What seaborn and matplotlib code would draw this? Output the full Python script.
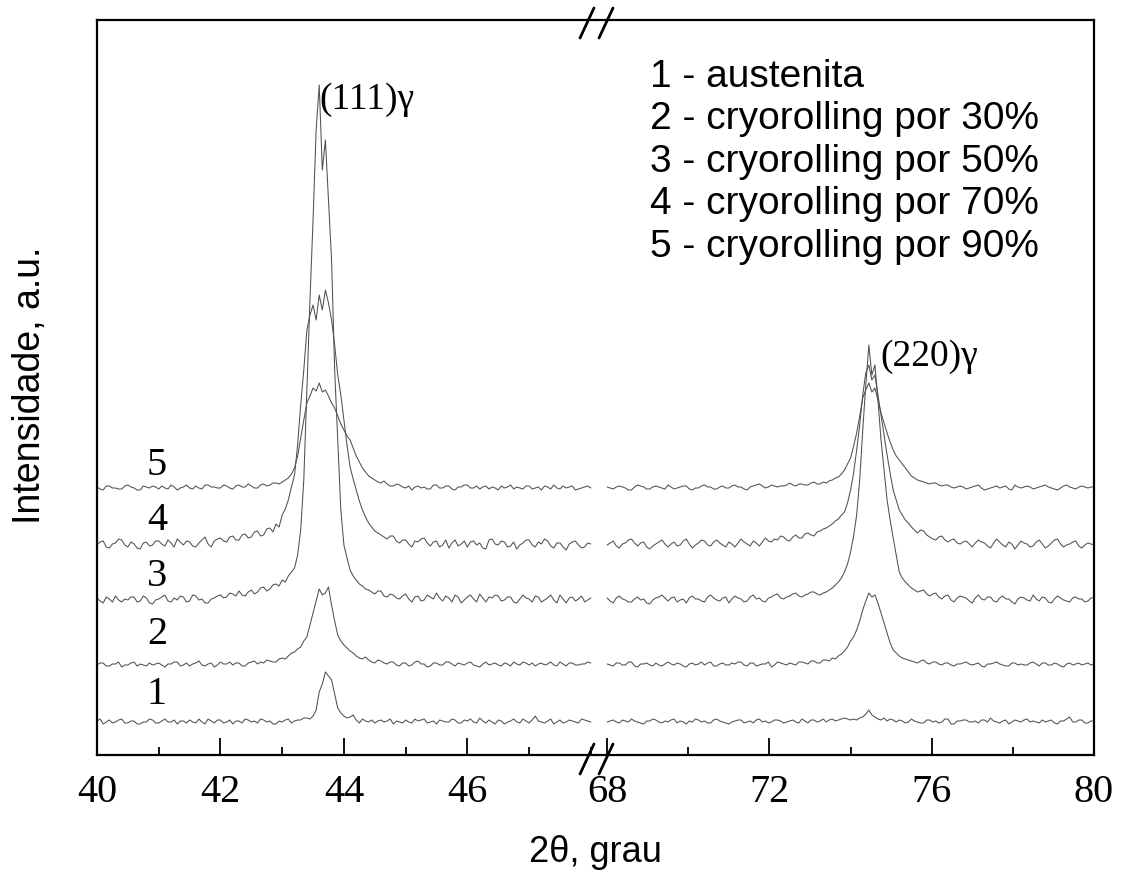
import numpy as np
import pandas as pd
import seaborn as sns
import matplotlib.pyplot as plt
from matplotlib.lines import Line2D
from matplotlib.ticker import MultipleLocator

# 2theta grids (measured steps) for the two parts of the broken axis
theta_left = np.round(np.arange(40.0, 48.0001, 0.05), 3)
theta_right = np.round(np.arange(68.0, 80.0001, 0.075), 3)

# intensities above each baseline (a.u.), one row per 1 deg (left) / 1.5 deg (right)
c1_left = [1, 3, -2, 0, 2, -1, 0, 2, 3, -1, -1, 1, 1, -2, -2, 0, 0, 3, 2, -1,
           -1, 1, 3, 0, 0, 2, -2, 1, 1, -1, 2, 0, -1, 3, 0, -2, 3, 1, -1, 2,
           2, -1, 0, 2, -2, 1, 1, -1, 3, 2, 0, 1, -1, 3, 2, 0, 1, -2, -2, 1,
           0, 2, 3, -1, 1, 2, 2, 4, 4, 3, 6, 12, 30, 38, 50, 46, 42, 28, 14, 9,
           6, 4, 5, 7, 2, -1, 3, 1, 0, 2, -1, 1, 2, 0, 1, 3, -2, 1, 0, -1,
           2, 0, -1, 3, 1, 2, 3, -1, 0, 1, -2, 2, 1, 0, 0, 3, 2, -1, -1, 2,
           1, 3, 0, -1, 4, 1, -1, 2, 0, -2, 2, 1, -2, 0, 1, 3, 0, -1, 3, 1,
           -1, 2, 6, 1, 0, -1, 1, 3, -2, 0, 2, -1, 0, 2, 1, 0, -1, 3, 2, 1,
           0]
c2_left = [0, 2, 2, -1, -1, 1, 1, 3, -2, 0, 0, 2, 3, -1, 1, 0, -1, 2, 0, 1,
           2, 0, -2, 1, 1, 3, 3, -1, 0, 2, -1, 1, 2, 4, 0, -1, 1, 2, -2, 0,
           3, 1, 1, 3, 0, 2, 2, -1, -1, 2, 3, 4, 1, 3, 2, 5, 4, 3, 3, 6,
           7, 6, 9, 12, 13, 16, 18, 24, 28, 40, 52, 64, 76, 70, 72, 78, 60, 44, 30, 24,
           20, 17, 14, 12, 9, 7, 6, 8, 5, 3, 2, 5, 4, 2, 1, 3, 3, 0, -1, 2,
           2, -1, 0, 3, 4, 1, 1, -2, -1, 2, 2, 0, 0, 3, 3, 1, -1, 2, 1, 0,
           2, 3, 0, -1, -2, 1, 3, 0, 1, 2, 0, -1, 2, 1, -1, 3, 1, 0, 3, 2,
           0, 2, -1, 1, 2, 0, 1, 3, 0, -1, 3, 1, -1, 2, 2, 0, 0, 1, 1, 3,
           2]
c3_left = [2, -1, -3, 3, 1, -2, 4, 0, -2, 1, 0, 3, 3, -2, -1, 4, 2, -3, -4, 0,
           1, 3, 5, -1, -2, 2, 0, 4, 3, -2, -1, 5, 4, 0, 1, -3, -3, 1, 2, 4,
           5, 2, 3, 7, 6, 4, 9, 5, 4, 8, 10, 6, 8, 12, 13, 9, 11, 15, 16, 14,
           20, 18, 24, 28, 32, 45, 70, 120, 210, 300, 380, 470, 515, 430, 460, 400, 340, 230, 160, 90,
           55, 42, 30, 24, 20, 16, 14, 11, 10, 8, 6, 9, 9, 4, 3, 6, 5, 2, 1, 4,
           6, 1, -2, 3, 4, -1, 0, 5, 3, 1, 7, 2, -1, 4, 2, -2, 5, 3, -3, 0,
           3, 5, 1, -2, 6, 2, -2, 3, 2, 5, 4, -1, 0, 3, 3, -2, -3, 1, 5, 2,
           1, -2, 4, 3, -2, 0, 2, 5, 0, -3, 5, 1, -3, 2, 3, -1, 1, 4, -2, 0,
           2]
c4_left = [0, 3, 4, -2, -3, 1, 2, 6, 5, 0, -2, 3, 1, -3, -4, 2, 3, -1, 0, 4,
           4, 1, -1, 5, 2, -2, 6, 3, 0, 4, 3, -1, -2, 2, 5, 8, 1, -2, 4, 6,
           7, 4, 3, 8, 9, 5, 5, 10, 11, 7, 8, 13, 14, 9, 10, 16, 17, 13, 21, 18,
           30, 36, 45, 58, 70, 100, 140, 175, 215, 230, 240, 225, 250, 235, 255, 242, 225, 200, 170, 150,
           125, 100, 78, 66, 55, 44, 35, 28, 22, 18, 14, 12, 10, 8, 6, 9, 9, 4, 2, 5,
           5, 1, -2, 4, 3, 6, 7, 2, -1, 3, 4, -2, 0, 5, -3, 2, 5, -1, 1, 4,
           -2, 3, 4, 0, 2, -3, -4, 5, 6, 1, 0, 4, 3, -2, -1, 3, -4, 0, 2, 5,
           5, 0, -2, 3, 1, 6, 4, -1, -3, 2, 2, -2, -5, 1, 3, 4, 0, -3, -2, 2,
           1]
c5_left = [1, -1, -2, 2, 2, 0, 0, -1, -1, 2, 3, 1, 0, -2, -2, 2, 1, 0, 2, 1,
           -1, 2, 0, -1, 3, 1, -2, 0, 1, 3, 0, -1, 2, 0, -1, 3, 3, 1, 1, 0,
           0, 3, 2, 0, -1, 2, 3, 1, 1, 4, 2, 0, 0, 3, 4, 2, 3, 5, 5, 4,
           6, 8, 10, 14, 20, 32, 50, 68, 85, 92, 100, 97, 105, 96, 98, 92, 85, 80, 72, 64,
           58, 52, 48, 40, 32, 26, 20, 16, 12, 10, 8, 6, 5, 7, 4, 2, 2, 4, 3, 1,
           0, 2, -2, 1, 2, 0, 1, -1, -1, 3, 3, 0, 0, 2, 2, -1, -2, 1, 1, 3,
           3, 0, 0, 2, -1, 1, 2, -1, 1, 0, -2, 2, 0, 1, 3, -1, 1, 0, -1, 2,
           2, -1, 0, 1, -2, 2, 1, -1, 3, 0, -1, 2, 0, 1, 2, -2, -1, 0, 1, 2,
           0]

c1_right = [0, 1, 2, 0, -1, 2, 1, 0, 3, 1, 0, -1, -2, 1, 1, 3, 2, 0, -1, 1,
            0, 2, 3, -1, 1, 0, -2, 1, 0, 3, 2, 0, 1, -1, -1, 2, 3, 1, 0, -1,
            -2, 0, 1, 2, 2, -1, 0, 1, -1, 2, 3, 0, 1, -1, 0, 2, 2, 1, -1, 0,
            1, 2, 0, -1, 3, 1, -1, 2, 2, 0, 1, 3, 0, 2, 3, 1, 2, 3, 4, 3,
            2, 3, 2, 4, 5, 8, 12, 7, 5, 3, 2, 4, 1, 3, 2, 0, 2, 1, -1, 0,
            3, 1, 0, -1, -1, 2, 2, 0, 1, -1, 0, 3, 3, -2, -2, 1, 1, 2, 2, 0,
            0, 1, -1, 2, 2, 0, 4, 1, 0, -1, 1, 2, -2, 0, 2, 1, 0, 2, 3, 0,
            1, 0, -1, 2, 0, 1, 2, -1, -2, 1, 1, 3, 5, 0, 0, 2, 2, -1, -1, 1,
            1]
c2_right = [1, 0, -1, 2, 2, 0, 0, 3, 3, -1, -2, 1, 1, 2, 0, -1, 2, 0, -1, 1,
            3, 1, 0, 2, 1, -1, -2, 1, 2, 0, 1, 3, 0, 2, 3, -1, -1, 1, 2, 0,
            0, 2, 1, 3, 3, 0, -1, 2, 2, -1, 0, 1, 1, 3, -2, 0, 3, 2, 1, 0,
            2, 1, 0, 3, 3, 2, 1, 4, 4, 2, 2, 5, 5, 4, 7, 6, 9, 11, 14, 18,
            24, 28, 35, 44, 55, 64, 72, 68, 70, 62, 52, 42, 32, 22, 15, 12, 9, 7, 6, 5,
            4, 3, 2, 4, 5, 2, 1, 3, 3, 1, 0, 2, 2, 0, -1, 1, 1, 2, 3, 1,
            0, 1, 2, -1, -2, 1, 1, 2, 3, 1, 0, -1, -1, 2, 2, 0, 1, 0, 0, 2,
            3, 1, -1, 2, 2, 0, 0, 2, 1, -1, -2, 1, 2, 0, 1, 2, 0, 1, 2, 0,
            1]
c3_right = [2, -1, -3, 2, 4, 1, 0, -2, -2, 1, 3, 0, 1, -3, -4, 0, 2, 3, 5, 2,
            -1, 2, 3, -2, 0, 1, -3, 2, 4, 1, 1, -1, -2, 3, 5, 2, 0, -1, 2, 3,
            -3, 1, 4, 2, 1, -2, -1, 3, 5, 1, 2, -1, -2, 2, 3, 5, 6, 2, 1, 3,
            4, 6, 7, 4, 3, 5, 6, 8, 8, 6, 5, 7, 8, 10, 12, 15, 18, 22, 28, 36,
            48, 64, 85, 120, 170, 215, 255, 225, 235, 200, 160, 130, 100, 80, 62, 45, 28, 22, 18, 15,
            12, 10, 8, 9, 10, 6, 4, 6, 7, 3, 1, 4, 5, 0, -2, 2, 4, 3, 2, -1,
            -3, 2, 5, 1, 0, 3, 3, -1, -2, 2, 4, 1, 1, -2, -4, 1, 3, 2, 0, -1,
            5, 1, -1, 3, 2, -2, -3, 1, 4, 2, 0, -1, -2, 2, 3, 1, 1, -2, -1, 2,
            2]
c4_right = [0, 2, 4, -1, -3, 1, 2, 5, 6, 2, -1, 2, 3, -2, -4, -1, 1, 3, 5, 1,
            -2, 1, 3, -1, 0, 4, 6, 1, -3, 0, 2, 5, 4, 0, -1, 3, 5, 2, 0, -2,
            3, 1, -2, 2, 6, 3, 1, -1, 4, 2, -1, 3, 7, 4, 3, 6, 5, 9, 8, 5,
            4, 8, 10, 7, 7, 11, 12, 10, 9, 13, 14, 16, 17, 19, 21, 24, 26, 30, 33, 42,
            55, 72, 95, 120, 150, 172, 180, 165, 170, 150, 130, 110, 90, 72, 55, 45, 35, 30, 25, 22,
            18, 15, 12, 15, 14, 10, 8, 6, 5, 8, 9, 5, 3, 5, 6, 2, 1, 3, 4, 1,
            -2, 2, 5, 3, 2, -1, -3, 2, 6, 3, 0, -2, 3, 1, -4, 0, 4, 2, 1, -2,
            -1, 3, 5, 1, -3, -1, 2, 5, 6, 1, -2, 0, 1, 3, 4, -1, -3, 0, 2, 1,
            0]
c5_right = [1, 0, -1, 1, 2, 1, 0, -2, -2, 1, 3, 2, 1, -1, -1, 1, 2, 1, 0, -1,
            3, 1, -1, 0, 1, 2, 2, -1, -2, 0, 0, 2, 3, 1, 1, -1, -1, 1, 2, 0,
            0, 2, 3, 1, 1, -1, -2, 1, 2, 3, 4, 2, 0, 1, 3, 2, 1, 2, 2, 3,
            5, 3, 2, 4, 4, 3, 3, 5, 6, 4, 4, 6, 5, 7, 8, 10, 11, 14, 18, 24,
            30, 42, 55, 72, 90, 98, 105, 96, 100, 88, 75, 65, 55, 46, 38, 32, 28, 24, 20, 16,
            12, 10, 8, 7, 6, 5, 4, 5, 5, 3, 2, 3, 3, 1, 0, 1, 2, 1, -1, 0,
            1, 2, 3, 0, -2, -1, 0, 1, 2, 0, 1, 2, -1, -2, 3, 1, 0, 1, 2, 1,
            -1, 0, 1, 2, 3, 1, 0, -1, -2, 0, 2, 3, 1, 0, -1, 1, 2, 1, 0, 1,
            1]

curve_ids = ["1", "2", "3", "4", "5"]
offsets = [33, 90, 155, 210, 267]
legend_lines = ["1 - austenita",
                "2 - cryorolling por 30%",
                "3 - cryorolling por 50%",
                "4 - cryorolling por 70%",
                "5 - cryorolling por 90%"]

left_sets = [c1_left, c2_left, c3_left, c4_left, c5_left]
right_sets = [c1_right, c2_right, c3_right, c4_right, c5_right]

rows = []
for cid, off, yl, yr in zip(curve_ids, offsets, left_sets, right_sets):
    assert len(yl) == len(theta_left) and len(yr) == len(theta_right), cid
    for t, v in zip(theta_left, yl):
        rows.append((cid, "L", t, v + off))
    for t, v in zip(theta_right, yr):
        rows.append((cid, "R", t, v + off))
df = pd.DataFrame(rows, columns=["curva", "parte", "theta", "I"])

sns.set_theme(style="ticks")
plt.rcParams['font.family'] = ['Liberation Sans', 'DejaVu Sans']

W, H = 1123, 873
fig = plt.figure(figsize=(W / 100, H / 100), dpi=100)
gs = fig.add_gridspec(1, 2, width_ratios=[500, 497], left=97 / W, right=1094 / W,
                      bottom=1 - 755 / H, top=1 - 20 / H, wspace=0)
axL = fig.add_subplot(gs[0])
axR = fig.add_subplot(gs[1], sharey=axL)

line_col = "#505050"
for ax, part in ((axL, "L"), (axR, "R")):
    sub = df[df["parte"] == part]
    sns.lineplot(data=sub, x="theta", y="I", units="curva", estimator=None,
                 sort=False, color=line_col, linewidth=0.75, ax=ax)
    ax.set_xlabel("")
    ax.set_ylabel("")
    ax.set_yticks([])
    for s in ax.spines.values():
        s.set_linewidth(1.6)
        s.set_color("black")
    ax.tick_params(axis="x", which="both", direction="in", labelsize=29, width=1.3,
                   pad=14, labelfontfamily="Liberation Serif", colors="black")
    ax.tick_params(axis="x", which="major", length=12)
    ax.tick_params(axis="x", which="minor", length=6)

axL.set_xlim(40, 48.1)
axR.set_xlim(67.75, 80)
axL.set_ylim(0, 735)
axL.set_xticks([40, 42, 44, 46])
axL.xaxis.set_minor_locator(MultipleLocator(1))
axR.set_xticks([68, 72, 76, 80])
axR.xaxis.set_minor_locator(MultipleLocator(2))
axL.spines["right"].set_visible(False)
axR.spines["left"].set_visible(False)
axR.tick_params(axis="y", left=False, labelleft=False)

# break marks on the top and bottom spines
for yc in (23, 759):
    for xc in (587, 606):
        fig.add_artist(Line2D([(xc - 7) / W, (xc + 7) / W],
                              [1 - (yc + 15) / H, 1 - (yc - 15) / H],
                              color="black", lw=2))

# curve numbers
num_y = [60, 120, 178, 235, 290]
for cid, yy in zip(curve_ids, num_y):
    axL.text(40.97, yy, cid, fontsize=29, family="Liberation Serif",
             ha="center", va="center", color="black")

axL.text(43.61, 655, "(111)γ", fontsize=27, family="Liberation Serif",
         ha="left", va="center", color="black")
axR.text(74.73, 398, "(220)γ", fontsize=27, family="Liberation Serif",
         ha="left", va="center", color="black")

fig.text(650 / W, 1 - 59 / H, "\n".join(legend_lines), fontsize=28,
         ha="left", va="top", linespacing=1.23, color="black")

fig.text(595 / W, 1 - 852 / H, "2θ, grau", fontsize=26, ha="center", va="center",
         color="black")
fig.text(30 / W, 1 - 385 / H, "Intensidade, a.u.", fontsize=27, rotation=90,
         ha="center", va="center", color="black")

fig.savefig("out.png", dpi=100)
